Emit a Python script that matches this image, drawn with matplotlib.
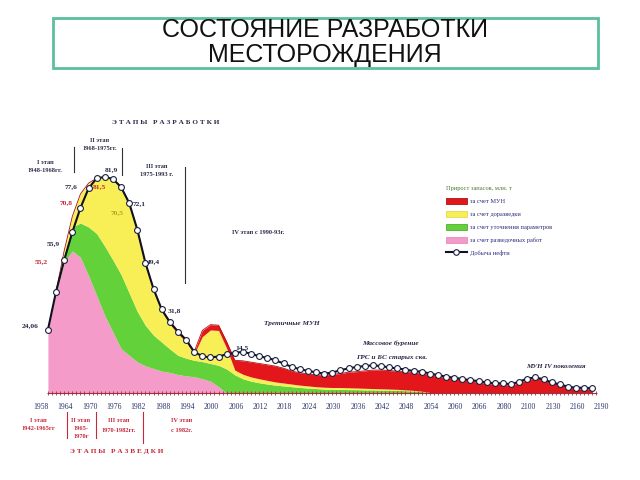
import numpy as np
import matplotlib
matplotlib.use('Agg')
import matplotlib.pyplot as plt
from matplotlib.patches import Rectangle, Patch
from matplotlib.lines import Line2D

# ---------------- data ----------------
year_labels = ['1958', '1964', '1970', '1976', '1982', '1988', '1994', '2000',
               '2006', '2012', '2018', '2024', '2030', '2036', '2042', '2048',
               '2054', '2060', '2066', '2080', '2100', '2130', '2160', '2190']

production = [24.06, 38.5, 50.4, 61.0, 70.2, 77.6, 81.5, 81.9, 81.2, 78.1,
              72.1, 62.0, 49.4, 39.5, 31.8, 27.0, 23.4, 20.3, 15.7, 14.0,
              13.6, 13.9, 14.8, 15.3, 15.7, 15.0, 14.0, 13.4, 12.5, 11.3,
              10.0, 9.1, 8.5, 7.9, 7.5, 7.8, 8.8, 9.4, 10.0, 10.3,
              10.6, 10.3, 9.8, 9.4, 9.0, 8.4, 8.2, 7.5, 6.9, 6.3,
              5.9, 5.4, 5.0, 4.6, 4.1, 3.8, 3.8, 3.4, 4.4, 5.6,
              6.0, 5.3, 4.1, 3.4, 2.5, 2.1, 2.1, 1.9]

# cumulative upper boundaries of stacked reserve-growth areas
pink_top = [24.06, 38.3, 49.5, 53.9, 51.5, 44.5, 37.0, 29.4, 23.2, 16.9,
            14.4, 11.9, 10.4, 9.4, 8.4, 7.9, 7.1, 6.6, 6.3, 5.5,
            4.6, 2.5, 0, 0, 0, 0, 0, 0, 0, 0,
            0, 0, 0, 0, 0, 0, 0, 0, 0, 0,
            0, 0, 0, 0, 0, 0, 0, 0, 0, 0,
            0, 0, 0, 0, 0, 0, 0, 0, 0, 0,
            0, 0, 0, 0, 0, 0, 0, 0]
green_top = [24.06, 38.5, 53.0, 63.0, 64.5, 63.0, 60.5, 55.7, 50.5, 45.0,
             38.0, 31.0, 25.7, 22.0, 19.4, 16.8, 14.4, 13.3, 12.5, 12.0,
             11.3, 10.6, 9.2, 7.0, 5.5, 4.6, 4.0, 3.5, 3.1, 2.8,
             2.5, 2.2, 2.0, 1.8, 1.6, 1.5, 1.5, 1.4, 1.4, 1.3,
             1.3, 1.2, 1.2, 1.1, 1.0, 0.9, 0.7, 0.3, 0, 0,
             0, 0, 0, 0, 0, 0, 0, 0, 0, 0,
             0, 0, 0, 0, 0, 0, 0, 0]
yellow_top = [24.06, 38.5, 54.0, 67.0, 75.5, 79.6, 81.5, 81.9, 81.2, 78.1,
              72.1, 62.0, 48.9, 38.9, 31.0, 26.2, 22.6, 19.5, 14.9, 21.5,
              24.0, 23.8, 17.0, 8.8, 7.2, 6.2, 5.5, 4.9, 4.3, 3.9,
              3.5, 3.1, 2.8, 2.5, 2.3, 2.2, 2.2, 2.1, 2.0, 1.9,
              1.8, 1.7, 1.6, 1.5, 1.3, 1.1, 0.8, 0.3, 0, 0,
              0, 0, 0, 0, 0, 0, 0, 0, 0, 0,
              0, 0, 0, 0, 0, 0, 0, 0]
red_top = [24.06, 38.5, 54.0, 67.0, 75.5, 79.6, 81.5, 81.9, 81.2, 78.1,
           72.1, 62.0, 49.4, 39.5, 31.8, 27.0, 23.4, 20.3, 15.7, 23.8,
           26.0, 25.8, 19.5, 12.5, 12.3, 11.8, 11.3, 10.8, 10.3, 9.5,
           8.4, 7.8, 7.3, 7.0, 6.9, 7.2, 7.5, 8.0, 8.2, 8.5,
           8.8, 8.8, 8.6, 8.4, 8.2, 7.8, 7.6, 7.0, 6.4, 5.9,
           5.5, 5.0, 4.6, 4.2, 3.7, 3.4, 3.4, 3.0, 4.0, 5.2,
           5.6, 4.9, 3.7, 3.0, 2.1, 1.7, 1.7, 1.5]

legend_title = 'Прирост запасов, млн. т'
legend_labels = ['за счет МУН', 'за счет доразведки',
                 'за счет уточнения параметров', 'за счет разведочных работ',
                 'Добыча нефти']

# ---------------- style ----------------
C_RED = '#e3171b'
C_YEL = '#f8ee55'
C_GRN = '#63d23a'
C_PNK = '#f49bc9'
C_NAVY = '#283468'
C_TXTRED = '#c8283a'
SERIF = ['Liberation Serif', 'DejaVu Serif']

fig = plt.figure(figsize=(6.4, 4.8), dpi=100)
fig.patch.set_facecolor('white')


def P(x, y):
    return (x / 640.0, 1 - y / 480.0)


ax = fig.add_axes([39.8 / 640, 86.7 / 480, 561.8 / 640, 283.3 / 480])
x = np.arange(len(production))
zero = np.zeros(len(production))
ax.fill_between(x, zero, pink_top, color=C_PNK, lw=0)
ax.fill_between(x, pink_top, green_top, color=C_GRN, lw=0)
ax.fill_between(x, green_top, yellow_top, color=C_YEL, lw=0)
ax.fill_between(x, yellow_top, red_top, color=C_RED, lw=0)
ax.plot(x, red_top, color='#b01010', lw=0.6)
ax.plot(x, production, color='#111122', lw=1.5, marker='o', ms=4.2,
        mfc='white', mec='#1a2040', mew=0.8, zorder=5)

ax.set_xlim(-1.0, 67.6)
ax.set_ylim(0, 283.3 / 2.64)
for s in ['top', 'right', 'left', 'bottom']:
    ax.spines[s].set_visible(False)
ax.hlines(0, -0.15, 67.6, color='#a03040', lw=0.8, clip_on=False, zorder=6)
ax.set_yticks([])
ax.set_xticks([3 * k - 0.86 for k in range(len(year_labels))])
ax.set_xticklabels(year_labels, fontsize=5.5, color=C_NAVY, family=SERIF)
ax.set_xticks(np.arange(0, 68, 0.5), minor=True)
ax.tick_params(axis='x', which='major', length=0, pad=7)
ax.tick_params(axis='x', which='minor', length=2.5, direction='inout',
               color='#a03040', width=0.6)

# ---------------- title box ----------------
fig.patches.append(Rectangle(P(53, 68), 545 / 640, 50 / 480,
                             transform=fig.transFigure, fill=False,
                             edgecolor='#5cbf9f', lw=2))
fig.text(*P(325, 30), 'СОСТОЯНИЕ РАЗРАБОТКИ', ha='center', va='center',
         fontsize=18, family='Liberation Sans', color='#111111')
fig.text(*P(325, 55), 'МЕСТОРОЖДЕНИЯ', ha='center', va='center',
         fontsize=18, family='Liberation Sans', color='#111111')

# ---------------- stage annotations ----------------
def t(xp, yp, s, size=4.6, color=C_NAVY, **kw):
    fig.text(*P(xp, yp), s, ha=kw.pop('ha', 'center'), va='center',
             fontsize=size, color=color, family=SERIF,
             fontweight=kw.pop('weight', 'bold'), **kw)


def vline(xp, y0, y1, color='#333333'):
    fig.add_artist(Line2D([xp / 640, xp / 640], [1 - y0 / 480, 1 - y1 / 480],
                          transform=fig.transFigure, color=color, lw=0.8))


t(166, 122, 'Э Т А П Ы   Р А З Р А Б О Т К И', size=5.2, color='#2a2a48')
t(45, 163, 'I этап', color='#2a2a48')
t(45, 171, '1948-1968гг.', color='#2a2a48')
t(100, 140, 'II этап', color='#2a2a48')
t(100, 148, '1968-1975гг.', color='#2a2a48')
t(157, 167, 'III этап', color='#2a2a48')
t(157, 175, '1975-1993 г.', color='#2a2a48')
vline(74, 147, 172)
vline(121.5, 148, 175)
vline(185, 167, 283)
t(232, 232, 'IV этап с 1990-93г.', ha='left', color='#2a2a48')

# value labels
t(30, 326, '24,06', size=5.4, color='#2a2a48')
t(53, 244, '55,9', size=5.4, color='#2a2a48')
t(41, 262, '55,2', size=5.4, color=C_TXTRED)
t(71, 187, '77,6', size=5.4, color='#2a2a48')
t(66, 203, '70,8', size=5.4, color=C_TXTRED)
t(99, 187, '81,5', size=5.4, color=C_TXTRED)
t(111, 170, '81,9', size=5.4, color='#2a2a48')
t(139, 204, '72,1', size=5.4, color='#2a2a48')
t(117, 213, '70,5', size=5.4, color='#b8a020')
t(153, 262, '49,4', size=5.4, color='#2a2a48')
t(174, 311, '31,8', size=5.4, color='#2a2a48')
t(242, 348, '14,5', size=5.4, color='#2a2a48')

# stage text in the lower field
t(292, 323, 'Третичные МУН', size=5.2, style='italic', color='#2a2a48')
t(390, 343, 'Массовое бурение', size=5.2, style='italic', color='#2a2a48')
t(392, 357, 'ГРС и БС старых скв.', size=5.2, style='italic', color='#2a2a48')
t(556, 366, 'МУН IV поколения', size=5.0, style='italic', color='#2a2a48')

# exploration stages (bottom)
t(38, 420, 'I этап', color=C_TXTRED)
t(38, 428, '1942-1965гг', color=C_TXTRED)
t(81, 420, 'II этап', color=C_TXTRED)
t(81, 428, '1965-', color=C_TXTRED)
t(81, 437, '1970г', color=C_TXTRED)
t(119, 421, 'III этап', color=C_TXTRED)
t(119, 430, '1970-1982гг.', color=C_TXTRED)
t(182, 421, 'IV этап', color=C_TXTRED)
t(182, 430, 'с 1982г.', color=C_TXTRED)
vline(66.5, 412, 438, color=C_TXTRED)
vline(96, 412, 438, color=C_TXTRED)
vline(142.5, 412, 443, color=C_TXTRED)
t(117, 451, 'Э Т А П Ы   Р А З В Е Д К И', size=5.2, color=C_TXTRED)

# ---------------- legend ----------------
handles = [Patch(facecolor=C_RED, edgecolor='#900000', lw=0.5),
           Patch(facecolor=C_YEL, edgecolor='#e0d040', lw=0.5),
           Patch(facecolor=C_GRN, edgecolor='#40a020', lw=0.5),
           Patch(facecolor=C_PNK, edgecolor='#e080b0', lw=0.5),
           Line2D([], [], color='#111122', lw=1.5, marker='o', ms=4,
                  mfc='white', mec='#1a2040', mew=0.8)]
leg = fig.legend(handles, legend_labels, title=legend_title,
                 loc='upper left', bbox_to_anchor=P(443, 183),
                 frameon=False, prop={'family': SERIF, 'size': 4.6},
                 title_fontproperties={'family': SERIF, 'size': 4.6},
                 handlelength=3.2, handleheight=1.1, labelspacing=1.05,
                 handletextpad=0.6, borderpad=0)
leg.get_title().set_color('#4a7a30')
leg._legend_box.align = 'left'
for txt in leg.get_texts():
    txt.set_color('#2a2a80')

fig.savefig('out.png', dpi=100, facecolor='white')
